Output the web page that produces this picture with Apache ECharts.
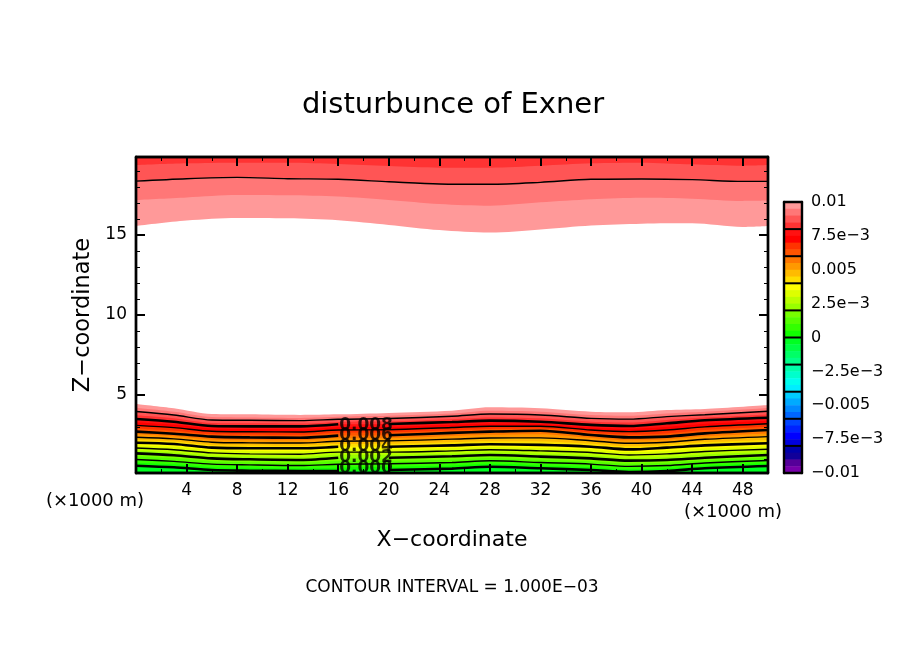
<!DOCTYPE html>
<html>
<head>
<meta charset="utf-8">
<style>html,body{margin:0;padding:0;background:#fff}#chart{width:904px;height:654px}</style>
<script src="https://cdn.jsdelivr.net/npm/echarts@6/dist/echarts.min.js"></script>
</head>
<body>
<div id="chart"></div>
<script>
// ticks
const xMajor = [4, 8, 12, 16, 20, 24, 28, 32, 36, 40, 44, 48]
const xMinor = [2, 6, 10, 14, 18, 22, 26, 30, 34, 38, 42, 46]
const zMajor = [5, 10, 15]
const zMinor = [1, 2, 3, 4, 6, 7, 8, 9, 11, 12, 13, 14, 16, 17, 18, 19]

// colour bar, top to bottom, one cell per 0.0005
const barColors = [
  '#ff9999', '#ff7777', '#ff5555', '#ff3333',
  '#ff1111', '#ff0000', '#ff3300', '#ff5500',
  '#ff7700', '#ff9900', '#ffbb00', '#ffdd00',
  '#ffff00', '#ddff00', '#bbff00', '#99ff00',
  '#77ff00', '#55ff00', '#33ff00', '#11ff00',
  '#00ff22', '#00ff44', '#00ff66', '#00ff88',
  '#00ffaa', '#00ffcc', '#00ffee', '#00eeff',
  '#00ccff', '#00aaff', '#0088ff', '#0066ff',
  '#0044ff', '#0022ff', '#0000ff', '#0000dd',
  '#0000aa', '#110099', '#550099', '#7700aa'
]
const barSeparators = [0.008, 0.006, 0.004, 0.002, 0, -0.002, -0.004, -0.006, -0.008]
const barLabels = ['\u22120.01', '\u22127.5e\u22123', '\u22120.005', '\u22122.5e\u22123', '0', '2.5e\u22123', '0.005', '7.5e\u22123', '0.01']

// lower layer: height of each 0.0005 level from 0.0100 down to 0.0000, one row per x
const lowX = [0, 3, 6, 9, 13, 16, 20, 25, 28, 32, 36, 39, 42, 45, 50]
const lowZ = [
  [4.44, 4.21, 3.97, 3.73, 3.50, 3.30, 3.10, 2.91, 2.71, 2.54, 2.36, 2.19, 2.02, 1.85, 1.69, 1.52, 1.35, 1.17, 0.97, 0.77, 0.58],
  [4.17, 3.96, 3.75, 3.54, 3.33, 3.15, 2.96, 2.77, 2.58, 2.42, 2.26, 2.10, 1.94, 1.76, 1.58, 1.41, 1.23, 1.04, 0.85, 0.67, 0.48],
  [3.81, 3.63, 3.44, 3.25, 3.06, 2.90, 2.73, 2.56, 2.40, 2.22, 2.05, 1.88, 1.71, 1.54, 1.38, 1.21, 1.04, 0.86, 0.68, 0.49, 0.31],
  [3.79, 3.60, 3.42, 3.23, 3.04, 2.87, 2.70, 2.53, 2.35, 2.19, 2.01, 1.84, 1.67, 1.50, 1.32, 1.15, 0.98, 0.80, 0.63, 0.45, 0.27],
  [3.75, 3.57, 3.40, 3.22, 3.04, 2.86, 2.69, 2.51, 2.33, 2.17, 2.00, 1.83, 1.67, 1.48, 1.30, 1.12, 0.94, 0.77, 0.59, 0.42, 0.25],
  [3.79, 3.64, 3.48, 3.32, 3.17, 2.99, 2.81, 2.64, 2.46, 2.29, 2.11, 1.94, 1.77, 1.60, 1.43, 1.26, 1.08, 0.88, 0.67, 0.46, 0.25],
  [3.88, 3.70, 3.53, 3.36, 3.19, 3.01, 2.83, 2.66, 2.48, 2.30, 2.13, 1.95, 1.77, 1.60, 1.43, 1.26, 1.08, 0.89, 0.70, 0.51, 0.31],
  [4.02, 3.84, 3.67, 3.49, 3.31, 3.14, 2.97, 2.80, 2.63, 2.43, 2.24, 2.05, 1.85, 1.68, 1.51, 1.34, 1.17, 0.97, 0.78, 0.59, 0.40],
  [4.23, 4.02, 3.81, 3.60, 3.40, 3.22, 3.05, 2.88, 2.71, 2.51, 2.31, 2.11, 1.92, 1.75, 1.58, 1.42, 1.25, 1.07, 0.89, 0.70, 0.52],
  [4.17, 3.96, 3.75, 3.54, 3.33, 3.19, 3.05, 2.91, 2.77, 2.55, 2.32, 2.10, 1.88, 1.69, 1.51, 1.33, 1.15, 0.96, 0.78, 0.60, 0.42],
  [3.96, 3.75, 3.54, 3.33, 3.13, 2.97, 2.81, 2.66, 2.50, 2.32, 2.14, 1.95, 1.77, 1.59, 1.41, 1.22, 1.04, 0.86, 0.68, 0.49, 0.31],
  [3.92, 3.70, 3.49, 3.28, 3.06, 2.89, 2.71, 2.53, 2.35, 2.17, 1.98, 1.79, 1.60, 1.43, 1.25, 1.07, 0.90, 0.72, 0.54, 0.36, 0.19],
  [4.06, 3.85, 3.65, 3.44, 3.23, 3.02, 2.81, 2.60, 2.40, 2.22, 2.05, 1.88, 1.71, 1.52, 1.32, 1.13, 0.94, 0.77, 0.59, 0.42, 0.25],
  [4.13, 3.95, 3.77, 3.59, 3.42, 3.21, 3.01, 2.81, 2.60, 2.42, 2.23, 2.04, 1.85, 1.66, 1.47, 1.28, 1.08, 0.92, 0.75, 0.58, 0.42],
  [4.38, 4.18, 3.98, 3.78, 3.58, 3.39, 3.20, 3.01, 2.81, 2.60, 2.40, 2.19, 1.98, 1.80, 1.61, 1.43, 1.25, 1.08, 0.91, 0.73, 0.56]
]

// upper layer: levels 0.0100, 0.0095, 0.0090, 0.0085
const topX = [0, 4, 8, 12, 16, 20, 24, 28, 32, 36, 40, 44, 48, 50]
const top100 = [15.56, 15.90, 16.06, 16.04, 15.92, 15.63, 15.31, 15.15, 15.35, 15.60, 15.71, 15.73, 15.50, 15.56]
const top095 = [17.19, 17.35, 17.50, 17.48, 17.40, 17.19, 16.94, 16.83, 17.04, 17.23, 17.33, 17.27, 17.13, 17.15]
const top090 = [18.37, 18.52, 18.60, 18.52, 18.48, 18.33, 18.19, 18.17, 18.29, 18.48, 18.50, 18.46, 18.35, 18.35]
const top085 = [19.37, 19.48, 19.52, 19.52, 19.44, 19.31, 19.21, 19.21, 19.33, 19.48, 19.52, 19.42, 19.33, 19.37]

// contour labels stacked in the lower layer
const labelX = 18.2
const labelZ = [3.12, 2.44, 1.75, 1.06, 0.38]
const labelText = ['0.008', '0.006', '0.004', '0.002', '0.000']

const FONT = 'DejaVu Sans'
const SMOOTH = 0.3
const series = []

// filled bands, painted from the outermost level inwards
const fill = (xs, zs, color, origin) => ({
  type: 'line', silent: true, symbol: 'none', z: 2, smooth: SMOOTH,
  data: xs.map((x, i) => [x, zs[i]]),
  lineStyle: { width: 0 },
  areaStyle: { color, opacity: 1, origin }
})
lowZ[0].forEach((_, lvl) => {
  series.push(fill(lowX, lowZ.map(row => row[lvl]), barColors[lvl], 'start'))
})
;[top100, top095, top090, top085].forEach((zs, i) => {
  series.push(fill(topX, zs, barColors[i], 'end'))
})

// contour lines, every 0.001, thicker every 0.002, broken round the labels
lowZ[0].forEach((_, lvl) => {
  if (lvl == 0 || lvl % 2) return
  const bold = lvl % 4 == 0
  const data = []
  lowX.forEach((x, i) => {
    data.push([x, lowZ[i][lvl]])
    if (bold && x == 16) data.push([18, null])
  })
  series.push({
    type: 'line', silent: true, symbol: 'none', z: 3, smooth: SMOOTH, data,
    lineStyle: { color: '#000', width: bold ? 2.6 : 1.4 }
  })
})
series.push({
  type: 'line', silent: true, symbol: 'none', z: 3, smooth: SMOOTH,
  data: topX.map((x, i) => [x, top090[i]]),
  lineStyle: { color: '#000', width: 1.4 }
})

series.push({
  type: 'scatter', silent: true, symbolSize: 0, z: 6,
  data: labelZ.map((z, i) => ({ value: [labelX, z], name: labelText[i] })),
  label: {
    show: true, position: 'inside', formatter: p => p.name,
    fontFamily: FONT, fontSize: 17, fontWeight: 'bold', color: '#000'
  }
})

// colour bar
const barCell = (params, api) => {
  const hi = api.value(0)
  const p0 = api.coord([0, hi])
  const p1 = api.coord([1, hi - 0.0005])
  return { type: 'rect', shape: { x: p0[0], y: p0[1], width: p1[0] - p0[0], height: p1[1] - p0[1] + 0.5 }, style: { fill: api.value(1) } }
}
series.push({
  type: 'custom', silent: true, xAxisIndex: 4, yAxisIndex: 4, z: 2, renderItem: barCell,
  encode: { x: -1, y: 0 },
  dimensions: [{ name: 'hi', type: 'number' }, { name: 'color', type: 'ordinal' }],
  data: barColors.map((c, i) => [0.01 - i * 0.0005, c])
})
series.push({
  type: 'custom', silent: true, xAxisIndex: 4, yAxisIndex: 4, z: 3,
  encode: { x: -1, y: 0 },
  renderItem: (params, api) => {
    const p0 = api.coord([0, api.value(0)])
    const p1 = api.coord([1, api.value(0)])
    return { type: 'line', shape: { x1: p0[0], y1: p0[1], x2: p1[0], y2: p1[1] }, style: { stroke: '#000', lineWidth: 2 } }
  },
  data: barSeparators.map(v => [v])
})

const frameLine = { show: true, onZero: false, lineStyle: { color: '#000', width: 2.4 } }
const tick = (values, length, width) => ({ show: true, inside: true, length, customValues: values, lineStyle: { color: '#000', width } })
const tickLabel = { show: true, fontFamily: FONT, fontSize: 17, color: '#000', margin: 9 }
const plotX = extra => Object.assign({
  type: 'value', gridIndex: 0, min: 0, max: 50, z: 5, splitLine: { show: false },
  axisLine: frameLine, axisLabel: { show: false }
}, extra)
const plotY = extra => Object.assign({
  type: 'value', gridIndex: 0, min: 0.125, max: 19.875, z: 5, splitLine: { show: false },
  axisLine: frameLine, axisLabel: { show: false }
}, extra)
const barX = position => ({
  type: 'value', gridIndex: 1, min: 0, max: 1, position, z: 5, splitLine: { show: false },
  axisLine: frameLine, axisTick: { show: false }, axisLabel: { show: false }
})
const barY = (position, extra) => Object.assign({
  type: 'value', gridIndex: 1, min: -0.01, max: 0.01, interval: 0.0025, position, z: 5,
  splitLine: { show: false }, axisLine: frameLine, axisTick: { show: false }, axisLabel: { show: false }
}, extra)

const chart = echarts.init(document.getElementById('chart'), null, { renderer: 'canvas' })
chart.setOption({
  animation: false,
  backgroundColor: '#fff',
  title: [
    { text: 'disturbunce of Exner', left: 448, top: 86, textAlign: 'center', textStyle: { fontFamily: FONT, fontSize: 29, fontWeight: 'normal', color: '#000' } },
    { text: 'CONTOUR INTERVAL = 1.000E\u221203', left: 447, top: 574, textAlign: 'center', textStyle: { fontFamily: FONT, fontSize: 17, fontWeight: 'normal', color: '#000' } },
    { text: '(\u00d71000 m)', left: 90, top: 487, textAlign: 'center', textStyle: { fontFamily: FONT, fontSize: 18, fontWeight: 'normal', color: '#000' } },
    { text: '(\u00d71000 m)', left: 728, top: 498, textAlign: 'center', textStyle: { fontFamily: FONT, fontSize: 18, fontWeight: 'normal', color: '#000' } }
  ],
  grid: [
    { left: 136, top: 157, width: 632, height: 316 },
    { left: 784, top: 202, width: 18, height: 271 }
  ],
  xAxis: [
    plotX({
      position: 'bottom', axisTick: tick(xMajor, 9, 2),
      axisLabel: Object.assign({}, tickLabel, { customValues: xMajor }),
      name: 'X\u2212coordinate', nameLocation: 'middle', nameGap: 56,
      nameTextStyle: { fontFamily: FONT, fontSize: 22, color: '#000' }
    }),
    plotX({ position: 'top', axisTick: tick(xMajor, 9, 2) }),
    plotX({ position: 'bottom', axisTick: tick(xMinor, 4, 1) }),
    plotX({ position: 'top', axisTick: tick(xMinor, 4, 1) }),
    barX('bottom'),
    barX('top')
  ],
  yAxis: [
    plotY({
      position: 'left', axisTick: tick(zMajor, 9, 2),
      axisLabel: Object.assign({}, tickLabel, { customValues: zMajor }),
      name: 'Z\u2212coordinate', nameLocation: 'middle', nameGap: 38,
      nameTextStyle: { fontFamily: FONT, fontSize: 22.5, color: '#000' }
    }),
    plotY({ position: 'right', axisTick: tick(zMajor, 9, 2) }),
    plotY({ position: 'left', axisTick: tick(zMinor, 4, 1) }),
    plotY({ position: 'right', axisTick: tick(zMinor, 4, 1) }),
    barY('left'),
    barY('right', {
      axisLabel: Object.assign({}, tickLabel, { fontSize: 16, formatter: (v, i) => barLabels[i] })
    })
  ],
  series
})
</script>
</body>
</html>
